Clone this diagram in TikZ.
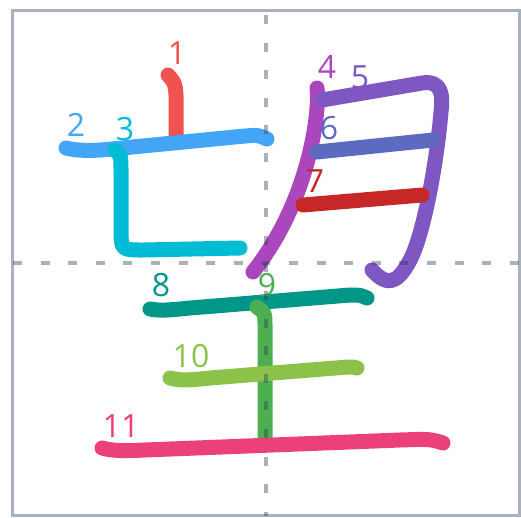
\documentclass[tikz,border=0pt]{standalone}
\usepackage{fontspec}
\setmainfont{Open Sans}
\usepackage{xcolor}
\usetikzlibrary{arrows.meta}

\definecolor{c1}{HTML}{EF5350}
\definecolor{c2}{HTML}{42A5F5}
\definecolor{c3}{HTML}{00BCD4}
\definecolor{c4}{HTML}{AB47BC}
\definecolor{c5}{HTML}{7E57C2}
\definecolor{c6}{HTML}{5C6BC0}
\definecolor{c7}{HTML}{C62828}
\definecolor{c8}{HTML}{009688}
\definecolor{c9}{HTML}{4CAF50}
\definecolor{c10}{HTML}{8BC34A}
\definecolor{c11}{HTML}{EC407A}
\definecolor{gridink}{RGB}{40,60,90}

\tikzset{
  brush/.style={line width=15pt, line cap=round, line join=round},
  num/.style={inner sep=0pt, font=\fontsize{32}{32}\selectfont},
  gridline/.style={draw=gridink, opacity=0.4, line width=3.5pt, dash pattern=on 9pt off 18.6pt},
}

\begin{document}
\begin{tikzpicture}[x=1pt,y=-1pt]
\useasboundingbox (0,0) rectangle (521,517);
        % strokes in order
        \draw[brush, c1] (168,75) .. controls (175,83) .. (176,95) -- (176,135);
        \draw[brush, c2] (66,148) .. controls (78,151) and (92,151) .. (112,149) -- (245,136) .. controls (258,135) .. (267,139);
        \draw[brush, c3] (115,150) .. controls (121,156) .. (121,170) -- (121,228) .. controls (121,250) .. (143,250) -- (240,248);
        \draw[brush, c4] (317,88) .. controls (320,110) and (310,200) .. (253,272);
        \draw[brush, c5] (322,100) -- (422,83) .. controls (442,80) and (443,95) .. (441,112) .. controls (436,170) and (422,240) .. (409,262) .. controls (398,282) and (388,288) .. (372,270);
        \draw[brush, c6] (317,152) -- (433,140);
        \draw[brush, c7] (303,205) -- (422,195);
        \draw[brush, c8] (150,309) .. controls (160,311) and (170,310) .. (190,308) -- (350,295) .. controls (360,295) .. (367,298);
        \draw[brush, c9] (257,307) .. controls (265,313) .. (265,325) -- (265,437);
        \draw[brush, c10] (170,378) .. controls (180,381) and (192,380) .. (210,378) -- (348,367) .. controls (354,367) .. (357,368);
        \draw[brush, c11] (102,448) .. controls (112,451) and (125,451) .. (145,450) -- (400,440) .. controls (430,439) .. (443,443);
        % stroke numbers
        \node[num, c1] (n1) at (177,53) {1};
        \node[num, c2] (n2) at (76,125) {2};
        \node[num, c3] (n3) at (125,129) {3};
        \node[num, c4] (n4) at (327,67) {4};
        \node[num, c5] (n5) at (360,77) {5};
        \node[num, c6] (n6) at (329,128) {6};
        \node[num, c7] (n7) at (315,181) {7};
        \node[num, c8] (n8) at (161,285) {8};
        \node[num, c9] (n9) at (267,285) {9};
        \node[num, c10] (n10) at (191,356) {10};
        \node[num, c11] (n11) at (121,426) {11};
        % guide grid and frame
        \draw[gridline, dash phase=-3pt] (266,12) -- (266,516);
        \draw[gridline, dash phase=-1pt] (12,263) -- (519,263);
        \draw[draw=gridink, opacity=0.4, line width=3pt] (12.5,10.5) rectangle (519,515.5);
\end{tikzpicture}
\end{document}
